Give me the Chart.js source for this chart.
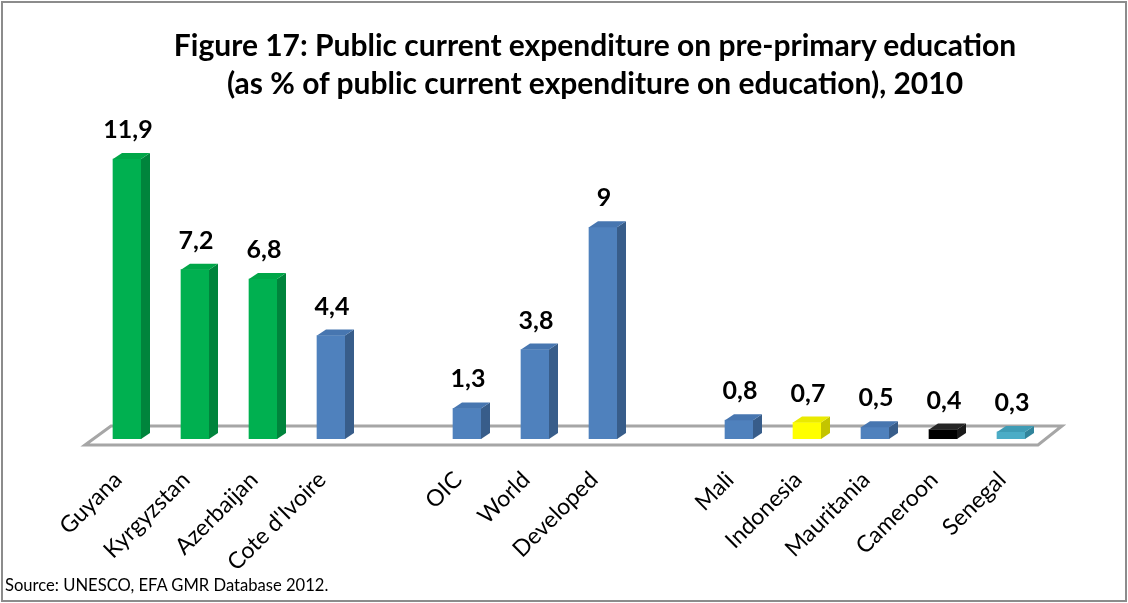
<!DOCTYPE html>
<html>
<head>
<meta charset="utf-8">
<script src="https://cdn.jsdelivr.net/npm/chart.js@4/dist/chart.umd.min.js"></script>
<style>
  html, body { margin: 0; padding: 0; background: #fff; }
  #wrap { position: relative; width: 1128px; height: 603px; overflow: hidden; }
  #frame { position: absolute; left: 1px; top: 1px; width: 1122px; height: 597px; border: 2px solid #8c8c8c; pointer-events: none; }
  #title { position: absolute; left: 0; width: 1190px; top: 25px; text-align: center;
           font: bold 30px Lato, 'Open Sans', sans-serif; line-height: 38px; color: #000; }
  #source { position: absolute; left: 5px; top: 575px; font: 16.6px Lato, 'Open Sans', sans-serif; color: #000; }
  canvas { position: absolute; left: 0; top: 0; }
</style>
</head>
<body>
<div id="wrap">
  <canvas id="chart" width="1128" height="603"></canvas>
  <div id="title">Figure 17: Public current expenditure on pre-primary education<br>(as % of public current expenditure on education), 2010</div>
  <div id="source">Source: UNESCO, EFA GMR Database 2012.</div>
  <div id="frame"></div>
</div>
<script>
// empty strings are spacer slots between the three groups
const categories = ['Guyana', 'Kyrgyzstan', 'Azerbaijan', "Cote d'Ivoire", '',
  'OIC', 'World', 'Developed', '',
  'Mali', 'Indonesia', 'Mauritania', 'Cameroon', 'Senegal']
const values = [11.9, 7.2, 6.8, 4.4, null, 1.3, 3.8, 9, null, 0.8, 0.7, 0.5, 0.4, 0.3]
const colorKeys = ['green', 'green', 'green', 'blue', null, 'blue', 'blue', 'blue', null,
  'blue', 'yellow', 'blue', 'black', 'cyan']

const palette = {
  green: { front: '#00b050', side: '#00843c', top: '#00a648' },
  blue: { front: '#4f81bd', side: '#385d8a', top: '#4776b0' },
  yellow: { front: '#ffff00', side: '#c4c400', top: '#eaea00' },
  black: { front: '#000000', side: '#1a1a1a', top: '#262626' },
  cyan: { front: '#4bacc6', side: '#31849b', top: '#3f9cb5' },
}

const DEPTH_X = 9
const DEPTH_Y = -6

const fmt = v => String(v).replace('.', ',')

// floor plane behind the bars
const floorPlugin = {
  id: 'floor',
  beforeDatasetsDraw(chart) {
    const { ctx, chartArea: { left, right }, scales: { y } } = chart
    const y0 = y.getPixelForValue(0)
    ctx.save()
    ctx.beginPath()
    ctx.moveTo(left - 8, y0 + 6)
    ctx.lineTo(left + 18, y0 - 13)
    ctx.lineTo(right + 17, y0 - 13)
    ctx.lineTo(right - 7, y0 + 6)
    ctx.closePath()
    ctx.fillStyle = '#ffffff'
    ctx.fill()
    ctx.strokeStyle = '#a6a6a6'
    ctx.lineWidth = 3
    ctx.stroke()
    ctx.restore()
  },
}

// side and top faces to give each bar depth
const depthPlugin = {
  id: 'depth',
  afterDatasetsDraw(chart) {
    const { ctx } = chart
    const meta = chart.getDatasetMeta(0)
    meta.data.forEach((bar, i) => {
      if (values[i] == null) return
      const c = palette[colorKeys[i]]
      const { x, y, base, width } = bar.getProps(['x', 'y', 'base', 'width'], true)
      const l = x - width / 2
      const r = x + width / 2
      ctx.save()
      ctx.fillStyle = c.side
      ctx.beginPath()
      ctx.moveTo(r, y)
      ctx.lineTo(r + DEPTH_X, y + DEPTH_Y)
      ctx.lineTo(r + DEPTH_X, base + DEPTH_Y)
      ctx.lineTo(r, base)
      ctx.closePath()
      ctx.fill()
      ctx.fillStyle = c.top
      ctx.beginPath()
      ctx.moveTo(l, y)
      ctx.lineTo(l + DEPTH_X, y + DEPTH_Y)
      ctx.lineTo(r + DEPTH_X, y + DEPTH_Y)
      ctx.lineTo(r, y)
      ctx.closePath()
      ctx.fill()
      ctx.restore()
    })
  },
}

// value labels above the bars
const valueLabelPlugin = {
  id: 'valueLabels',
  afterDatasetsDraw(chart) {
    const { ctx } = chart
    const meta = chart.getDatasetMeta(0)
    ctx.save()
    ctx.font = 'bold 25px Lato, "Open Sans", sans-serif'
    ctx.fillStyle = '#000'
    ctx.textAlign = 'center'
    ctx.textBaseline = 'alphabetic'
    meta.data.forEach((bar, i) => {
      if (values[i] == null) return
      ctx.fillText(fmt(values[i]), bar.x + 1, bar.y - 21)
    })
    ctx.restore()
  },
}

// slanted category names under the floor
const categoryLabelPlugin = {
  id: 'categoryLabels',
  afterDraw(chart) {
    const { ctx, scales: { x } } = chart
    ctx.save()
    ctx.font = '23px Lato, "Open Sans", sans-serif'
    ctx.fillStyle = '#000'
    ctx.textAlign = 'right'
    ctx.textBaseline = 'middle'
    categories.forEach((name, i) => {
      if (!name) return
      const px = x.getPixelForValue(i)
      ctx.save()
      ctx.translate(px - 9, 476)
      ctx.rotate(-Math.PI / 4)
      ctx.fillText(name, 0, 0)
      ctx.restore()
    })
    ctx.restore()
  },
}

new Chart(document.getElementById('chart'), {
  type: 'bar',
  data: {
    labels: categories,
    datasets: [{
      data: values,
      backgroundColor: colorKeys.map(k => (k ? palette[k].front : 'transparent')),
      borderWidth: 0,
      barThickness: 28,
    }],
  },
  options: {
    responsive: false,
    animation: false,
    layout: { padding: { left: 93, right: 83, top: 145, bottom: 164 } },
    plugins: { legend: { display: false }, tooltip: { enabled: false } },
    scales: {
      x: { display: false },
      y: { display: false, min: 0, max: 12.5 },
    },
  },
  plugins: [floorPlugin, depthPlugin, valueLabelPlugin, categoryLabelPlugin],
})
</script>
</body>
</html>
